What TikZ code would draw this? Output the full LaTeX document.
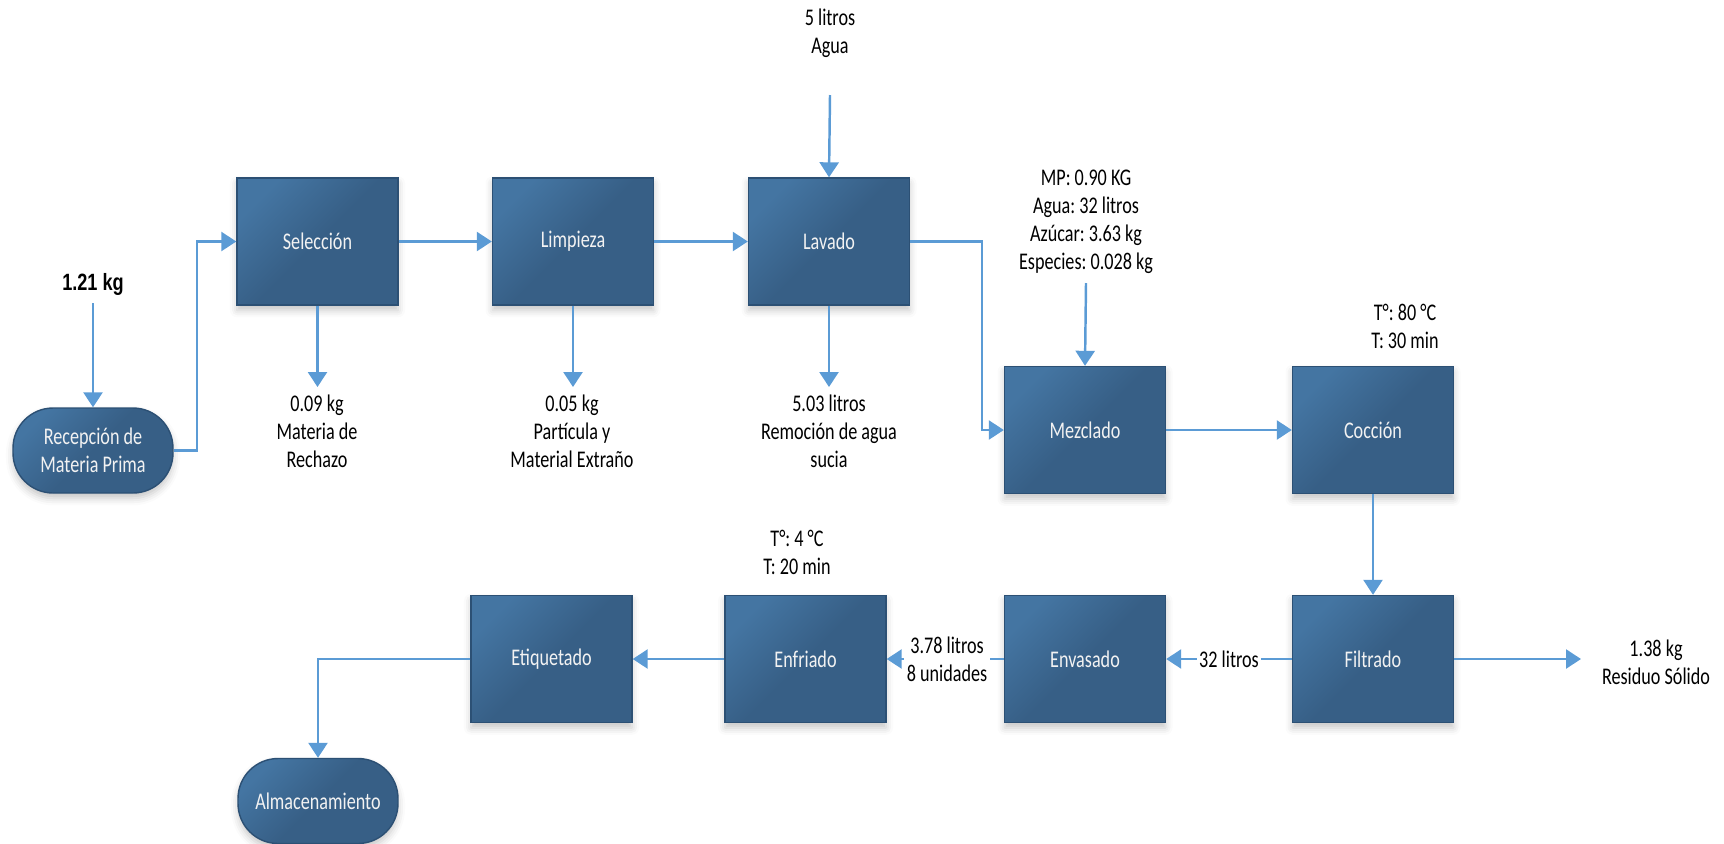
\documentclass[tikz,border=0pt]{standalone}
\usepackage{fontspec}
\setmainfont{Carlito}[FakeStretch=0.76]
\newfontfamily\arialb{Liberation Sans}[FakeStretch=0.77]
\usetikzlibrary{arrows.meta,shadows.blur}
\frenchspacing
\definecolor{boxA}{RGB}{68,117,162}
\definecolor{boxB}{RGB}{55,95,134}
\definecolor{boxC}{RGB}{44,80,116}
\definecolor{arr}{RGB}{91,155,213}
\newcommand{\lbl}{\fontsize{13.6}{16}\selectfont}
\tikzset{
  proc/.style={draw=boxC, line width=0.8pt, top color=boxA, bottom color=boxB,
    middle color=boxB, shading angle=45, minimum width=3.22cm, minimum height=2.54cm,
    inner sep=0pt, text=white!95!black, font=\lbl, align=center,
    blur shadow={shadow xshift=0pt, shadow yshift=-3pt, shadow opacity=22, shadow blur radius=4pt}},
  term/.style={proc, rounded corners=0.8cm, minimum width=3.2cm, minimum height=1.7cm},
  flow/.style={draw=arr, line width=1.4pt, -{Triangle[length=0.3cm,width=0.38cm]}},
  txt/.style={align=center, font=\lbl, inner sep=1pt, text=black},
  lab/.style={txt, fill=white, inner sep=1.5pt}
}
\begin{document}
\begin{tikzpicture}[x=0.02cm,y=-0.02cm]
\useasboundingbox (0,0) rectangle (1724,843);
% process nodes
\node[term] (rec) at (93,450.5) {Recepción de\\Materia Prima};
\node[proc] (sel) at (317.5,241.5) {Selección};
\node[proc] (lim) at (573,241.5) {Limpieza};
\node[proc] (lav) at (829,241.5) {Lavado};
\node[proc] (mez) at (1085,430) {Mezclado};
\node[proc] (coc) at (1373,430) {Cocción};
\node[proc] (fil) at (1373,659) {Filtrado};
\node[proc] (env) at (1085,659) {Envasado};
\node[proc] (enf) at (805.5,659) {Enfriado};
\node[proc] (eti) at (551.5,659) {Etiquetado};
\node[term] (alm) at (318,801) {Almacenamiento};
% texts
\node[txt, font=\arialb\bfseries\fontsize{13.4}{16}\selectfont] (kg121) at (93,284) {1.21 kg};
\node[txt] (agua) at (830,33.5) {5 litros\\Agua};
\node[txt] (mp) at (1086,221.5) {MP: 0.90 KG\\Agua: 32 litros\\Azúcar: 3.63 kg\\Especies: 0.028 kg};
\node[txt] (tcoc) at (1405,326) {T°: 80 °C\\T: 30 min};
\node[txt] (tenf) at (797,552) {T°: 4 °C\\T: 20 min};
\node[txt] (osel) at (317,431) {0.09 kg\\Materia de\\Rechazo};
\node[txt] (olim) at (572,431) {0.05 kg\\Partícula y\\Material Extraño};
\node[txt] (olav) at (829,431) {5.03 litros\\Remoción de agua\\sucia};
\node[txt] (ofil) at (1656,662) {1.38 kg\\Residuo Sólido};
% connector ends
\coordinate (a121) at (93,303);
\coordinate (aagua) at (830,95);
\coordinate (amp) at (1086,283);
\coordinate (esel) at (317.5,387);
\coordinate (elim) at (573,387);
\coordinate (elav) at (829,387);
\coordinate (efil) at (1581,659);
\coordinate (jrec) at (197,450.5);
\coordinate (jlav) at (982,241.5);
% connectors
\draw[flow] (a121) -- (rec.north);
\draw[flow] (rec.east) -- (jrec) |- (sel.west);
\draw[flow] (sel) -- (lim);
\draw[flow] (lim) -- (lav);
\draw[flow] (sel.south) -- (esel);
\draw[flow] (lim.south) -- (elim);
\draw[flow] (lav.south) -- (elav);
\draw[flow] (aagua) -- (lav.north);
\draw[flow] (lav.east) -- (jlav) |- (mez.west);
\draw[flow] (amp) -- (mez.north);
\draw[flow] (mez) -- (coc);
\draw[flow] (coc) -- (fil);
\draw[flow] (fil.east) -- (efil);
\draw[flow] (fil) -- node[lab] {32 litros} (env);
\draw[flow] (env) -- node[lab, xshift=1] {3.78 litros\\8 unidades} (enf);
\draw[flow] (enf) -- (eti);
\draw[flow] (eti.west) -| (alm.north);
\end{tikzpicture}
\end{document}
